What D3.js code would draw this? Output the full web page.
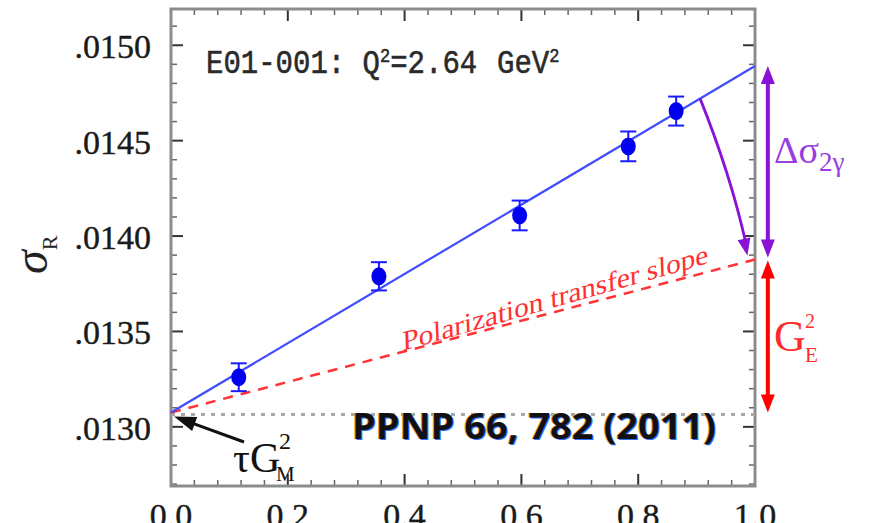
<!DOCTYPE html>
<html>
<head>
<meta charset="utf-8">
<script src="https://cdn.jsdelivr.net/npm/d3@7"></script>
<style>
  html, body { margin: 0; padding: 0; background: #fff; }
  svg { display: block; }
</style>
</head>
<body>
<div id="chart"></div>
<script>
"use strict";

/******************
*** CHART DATA ***
******************/

// measured points (epsilon, reduced cross section, error)
var epsVals = [0.116, 0.356, 0.597, 0.783, 0.865];
var sigmaR = [0.01326, 0.013789, 0.014108, 0.01447, 0.014655];
var sigmaErr = [0.000073, 0.000074, 0.000078, 0.000078, 0.000076];

// straight lines, value at eps = 0 and eps = 1
var rosenbluthFit = [0.013075, 0.014891];
var polTransfer = [0.013075, 0.013877];

// axis ticks
var xTicks = [0.0, 0.2, 0.4, 0.6, 0.8, 1.0];
var xTickLabels = ["0.0", "0.2", "0.4", "0.6", "0.8", "1.0"];
var yTicks = [0.0130, 0.0135, 0.0140, 0.0145, 0.0150];
var yTickLabels = [".0130", ".0135", ".0140", ".0145", ".0150"];


/****************
*** SETUP SVG ***
****************/

var width = 872, height = 523;
var svg = d3.select("#chart").append("svg")
  .attr("width", width)
  .attr("height", height);

var x = d3.scaleLinear().domain([0, 1]).range([171, 755]);
var y = d3.scaleLinear().domain([0.01269, 0.01519]).range([486, 9]);

var serif = "'Liberation Serif', 'Times New Roman', serif";

var lineAt = function(arr, e) { return arr[0] + (arr[1] - arr[0]) * e; };

// draws a filled arrow head with its point at (tx,ty), coming from (fx,fy)
var arrowHead = function(g, tx, ty, fx, fy, len, wid, col) {
  var dx = tx - fx, dy = ty - fy;
  var d = Math.sqrt(dx * dx + dy * dy);
  var ux = dx / d, uy = dy / d;
  var bx = tx - ux * len, by = ty - uy * len;
  var px = -uy * wid / 2, py = ux * wid / 2;
  g.append("path")
    .attr("d", "M" + tx + "," + ty + "L" + (bx + px) + "," + (by + py) + "L" + (bx - px) + "," + (by - py) + "Z")
    .attr("fill", col);
};


/*****************
*** AXIS FRAME ***
*****************/

var axes = svg.append("g");

// minor + major ticks on all four sides, pointing in
var xMinor = d3.range(0, 1.0001, 0.04);
xMinor.forEach(function(t) {
  var major = xTicks.some(function(m) { return Math.abs(m - t) < 1e-6; });
  var len = major ? 12 : 6;
  [[486, -1], [9, 1]].forEach(function(s) {
    axes.append("line")
      .attr("x1", x(t)).attr("x2", x(t))
      .attr("y1", s[0]).attr("y2", s[0] + s[1] * len)
      .attr("stroke", major ? "#333" : "#666")
      .attr("stroke-width", major ? 2 : 1.5);
  });
});

var yMinor = d3.range(0.0127, 0.01519, 0.0001);
yMinor.forEach(function(t) {
  var major = yTicks.some(function(m) { return Math.abs(m - t) < 1e-8; });
  var len = major ? 12 : 6;
  [[171, 1], [755, -1]].forEach(function(s) {
    axes.append("line")
      .attr("y1", y(t)).attr("y2", y(t))
      .attr("x1", s[0]).attr("x2", s[0] + s[1] * len)
      .attr("stroke", major ? "#333" : "#666")
      .attr("stroke-width", major ? 2 : 1.5);
  });
});

axes.append("rect")
  .attr("x", 171).attr("y", 9)
  .attr("width", 755 - 171).attr("height", 486 - 9)
  .attr("fill", "none")
  .attr("stroke", "#8c8c8c")
  .attr("stroke-width", 3);

// tick labels
axes.selectAll(".ylab")
  .data(yTicks)
  .enter()
  .append("text")
  .attr("x", 151)
  .attr("y", function(d) { return y(d) + 13; })
  .attr("text-anchor", "end")
  .attr("font-family", serif)
  .attr("font-size", "34px")
  .attr("fill", "#1a1a1a")
  .attr("stroke", "#1a1a1a")
  .attr("stroke-width", 0.4)
  .text(function(d, i) { return yTickLabels[i]; });

axes.selectAll(".xlab")
  .data(xTicks)
  .enter()
  .append("text")
  .attr("x", function(d) { return x(d); })
  .attr("y", 527)
  .attr("text-anchor", "middle")
  .attr("font-family", serif)
  .attr("font-size", "34px")
  .attr("fill", "#1a1a1a")
  .attr("stroke", "#1a1a1a")
  .attr("stroke-width", 0.4)
  .text(function(d, i) { return xTickLabels[i]; });

// y axis title, sigma_R
var ytitle = svg.append("text")
  .attr("transform", "translate(47,274) rotate(-90)")
  .attr("font-family", serif)
  .attr("fill", "#222");
ytitle.append("tspan").attr("font-size", "48px").attr("font-style", "italic").text("σ");
ytitle.append("tspan").attr("font-size", "22px").attr("dy", 10).text("R");


/************
*** LINES ***
************/

var plot = svg.append("g");

// dotted line at the intercept
plot.append("line")
  .attr("x1", x(0)).attr("x2", x(1))
  .attr("y1", y(rosenbluthFit[0]) + 2).attr("y2", y(rosenbluthFit[0]) + 2)
  .attr("stroke", "#a8a8a8")
  .attr("stroke-width", 3)
  .attr("stroke-dasharray", "4,6");

// polarization transfer slope (red dashed)
plot.append("line")
  .attr("x1", x(0)).attr("y1", y(polTransfer[0]))
  .attr("x2", x(1)).attr("y2", y(polTransfer[1]))
  .attr("stroke", "#ff3333")
  .attr("stroke-width", 2.5)
  .attr("stroke-dasharray", "10,8");

// rosenbluth fit (blue)
plot.append("line")
  .attr("x1", x(0)).attr("y1", y(rosenbluthFit[0]))
  .attr("x2", x(1)).attr("y2", y(rosenbluthFit[1]))
  .attr("stroke", "#3f4dff")
  .attr("stroke-width", 2.2);

// label sitting on the red line (slanted by hand so it stays a serif face)
plot.append("text")
  .attr("transform", "translate(" + x(0.397) + "," + (y(lineAt(polTransfer, 0.397)) - 1) + ") rotate(-16) skewX(-14)")
  .attr("font-family", serif)
  .attr("font-size", "27px")
  .attr("fill", "#ff3030")
  .attr("textLength", 318)
  .attr("lengthAdjust", "spacingAndGlyphs")
  .text("Polarization transfer slope");


/*****************
*** DATA POINTS ***
*****************/

var pts = plot.selectAll("g.pt")
  .data(epsVals)
  .enter()
  .append("g")
  .attr("class", "pt");

pts.append("line")
  .attr("x1", function(d) { return x(d); })
  .attr("x2", function(d) { return x(d); })
  .attr("y1", function(d, i) { return y(sigmaR[i] - sigmaErr[i]); })
  .attr("y2", function(d, i) { return y(sigmaR[i] + sigmaErr[i]); })
  .attr("stroke", "#1a1aff")
  .attr("stroke-width", 2);

[-1, 1].forEach(function(s) {
  pts.append("line")
    .attr("x1", function(d) { return x(d) - 8; })
    .attr("x2", function(d) { return x(d) + 8; })
    .attr("y1", function(d, i) { return y(sigmaR[i] + s * sigmaErr[i]); })
    .attr("y2", function(d, i) { return y(sigmaR[i] + s * sigmaErr[i]); })
    .attr("stroke", "#1a1aff")
    .attr("stroke-width", 2);
});

pts.append("ellipse")
  .attr("cx", function(d) { return x(d); })
  .attr("cy", function(d, i) { return y(sigmaR[i]); })
  .attr("rx", 7.5)
  .attr("ry", 9)
  .attr("fill", "#0000ee");


/*******************
*** ANNOTATIONS ***
*******************/

var ann = svg.append("g");

// experiment label
var exp = ann.append("text")
  .attr("transform", "translate(206,73) scale(1,1.15)")
  .attr("font-family", "'Liberation Mono', 'DejaVu Sans Mono', monospace")
  .attr("font-size", "29px")
  .attr("fill", "#2a2a2a")
  .attr("stroke", "#2a2a2a")
  .attr("stroke-width", 0.5);
exp.append("tspan").text("E01-001: Q");
exp.append("tspan").attr("font-size", "17px").attr("dy", -10).text("2");
exp.append("tspan").attr("dy", 10).text("=2.64");
exp.append("tspan").attr("x", 291).text("GeV");
exp.append("tspan").attr("font-size", "17px").attr("dy", -10).text("2");

// purple curved arrow from blue line down to red line
var e0 = 0.906, e1 = 0.987;
var p0 = [x(e0), y(lineAt(rosenbluthFit, e0))];
var p2 = [x(e1), y(lineAt(polTransfer, e1)) - 6];
var cp = [(p0[0] + p2[0]) / 2 + 7, (p0[1] + p2[1]) / 2 - 2];
var purple = "#8a12d6";
ann.append("path")
  .attr("d", "M" + p0[0] + "," + p0[1] + "Q" + cp[0] + "," + cp[1] + " " + (p2[0] - 1.5) + "," + (p2[1] - 12))
  .attr("fill", "none")
  .attr("stroke", purple)
  .attr("stroke-width", 2.8);
arrowHead(ann, p2[0], p2[1], cp[0], cp[1], 17, 13, purple);

// double arrows at the right edge
var ax = x(1.022);
var yTop = y(rosenbluthFit[1]), yMid = y(polTransfer[1]), yBot = y(polTransfer[0]);

ann.append("line")
  .attr("x1", ax).attr("x2", ax)
  .attr("y1", yTop + 12).attr("y2", yMid - 12)
  .attr("stroke", purple).attr("stroke-width", 4);
arrowHead(ann, ax, yTop, ax, yMid, 18, 14, purple);
arrowHead(ann, ax, yMid - 2, ax, yTop, 18, 14, purple);

ann.append("line")
  .attr("x1", ax).attr("x2", ax)
  .attr("y1", yMid + 12).attr("y2", yBot - 12)
  .attr("stroke", "#ff0000").attr("stroke-width", 4);
arrowHead(ann, ax, yMid + 1, ax, yBot, 18, 14, "#ff0000");
arrowHead(ann, ax, yBot, ax, yMid, 18, 14, "#ff0000");

// delta sigma label
var dl = ann.append("text")
  .attr("x", 774).attr("y", 163)
  .attr("font-family", serif)
  .attr("fill", "#9a3ede");
dl.append("tspan").attr("font-size", "38px").text("Δσ");
dl.append("tspan").attr("font-size", "27px").attr("dy", 8).text("2γ");

// G_E^2 label
ann.append("text")
  .attr("x", 774).attr("y", 351)
  .attr("font-family", serif).attr("font-size", "44px")
  .attr("fill", "#ff2a2a")
  .text("G");
ann.append("text")
  .attr("x", 805).attr("y", 328)
  .attr("font-family", serif).attr("font-size", "20px")
  .attr("fill", "#ff2a2a")
  .text("2");
ann.append("text")
  .attr("x", 805).attr("y", 362)
  .attr("font-family", serif).attr("font-size", "21px")
  .attr("fill", "#ff2a2a")
  .text("E");

// tau G_M^2 label with arrow to the intercept
ann.append("text")
  .attr("x", 233).attr("y", 472)
  .attr("font-family", serif).attr("font-size", "42px")
  .attr("fill", "#111")
  .text("τG");
ann.append("text")
  .attr("x", 279).attr("y", 449)
  .attr("font-family", serif).attr("font-size", "24px")
  .attr("fill", "#111")
  .text("2");
ann.append("text")
  .attr("x", 276).attr("y", 481)
  .attr("font-family", serif).attr("font-size", "21px")
  .attr("fill", "#111")
  .text("M");

var tip = [x(0) + 3, y(rosenbluthFit[0]) + 4];
var tail = [244, 442];
ann.append("line")
  .attr("x1", tail[0]).attr("y1", tail[1])
  .attr("x2", tip[0] + 14).attr("y2", tip[1] + 5)
  .attr("stroke", "#111").attr("stroke-width", 3);
arrowHead(ann, tip[0], tip[1], tail[0], tail[1], 22, 15, "#111");

// reference label, with the colour fringes of the original
var refText = "PPNP 66, 782 (2011)";
[[-1, -0.5, "#e8a040"], [1, 0.5, "#3070ff"], [0, 0, "#111"]].forEach(function(o) {
  ann.append("text")
    .attr("x", 352 + o[0]).attr("y", 439 + o[1])
    .attr("font-family", "'Open Sans', 'Noto Sans', sans-serif")
    .attr("font-weight", "bold")
    .attr("font-size", "35px")
    .attr("textLength", 364)
    .attr("lengthAdjust", "spacingAndGlyphs")
    .attr("fill", o[2])
    .text(refText);
});
</script>
</body>
</html>
